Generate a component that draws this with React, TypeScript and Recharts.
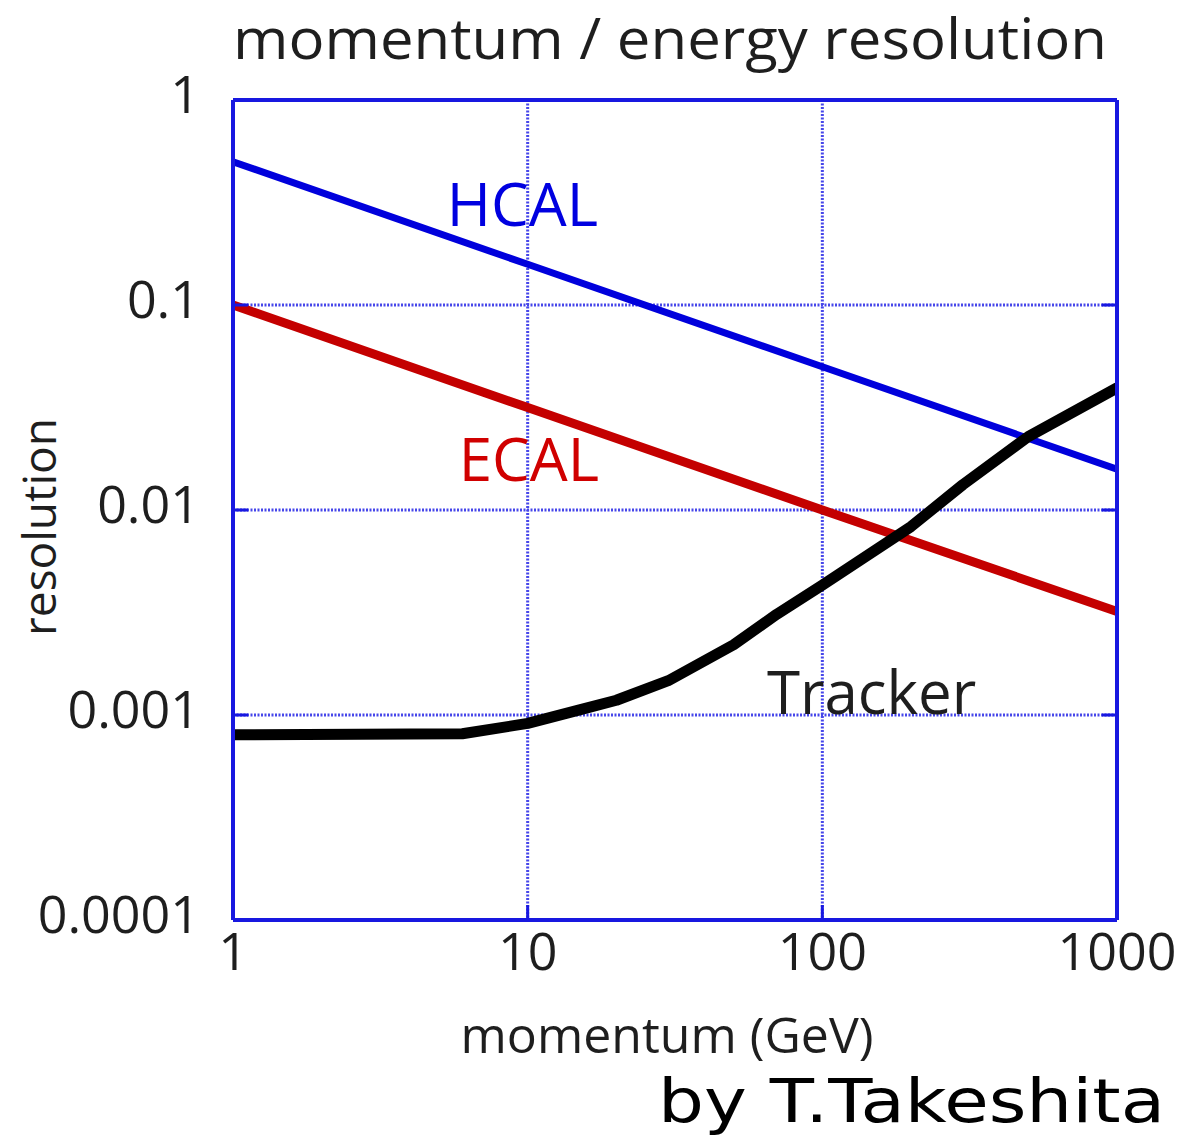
import React from 'react';
import { LineChart, Line, XAxis, YAxis, CartesianGrid, ReferenceDot, Label } from 'recharts';

// Calorimeter resolutions, read at each decade of momentum (GeV)
const calMomentum = [1, 10, 100, 1000];
const hcalRes = [0.5, 0.158, 0.05, 0.0158];
const ecalRes = [0.1, 0.0316, 0.01, 0.0032];

// Tracker momentum resolution
const trackerMomentum = [1, 6, 10, 15, 20, 30, 50, 70, 100, 200, 300, 500, 1000];
const trackerRes = [0.0008, 0.00081, 0.00091, 0.00106, 0.00118, 0.00147, 0.0022, 0.0031, 0.0043, 0.0083, 0.0133, 0.0228, 0.0394];

const xTicks = [1, 10, 100, 1000];
const yTicks = [0.0001, 0.001, 0.01, 0.1, 1];
const yTickLabels = ['0.0001', '0.001', '0.01', '0.1', '1'];

const hcalData = calMomentum.map((p, i) => ({ p, r: hcalRes[i] }));
const ecalData = calMomentum.map((p, i) => ({ p, r: ecalRes[i] }));
const trackerData = trackerMomentum.map((p, i) => ({ p, r: trackerRes[i] }));

const FONT = '"Open Sans", "Noto Sans", sans-serif';
const TEXT = '#1e1e1e';
const FRAME = '#1818e0';
const GRID = '#4646ea';

const XTick = (props: any) => (
  <text x={props.x} y={props.y + 50} textAnchor="middle" fontFamily={FONT} fontSize={52} fill={TEXT}>
    {props.payload.value}
  </text>
);

const YTick = (props: any) => {
  const idx = yTicks.indexOf(props.payload.value);
  return (
    <text x={props.x - 33} y={props.y + 13} textAnchor="end" fontFamily={FONT} fontSize={52} fill={TEXT}>
      {idx >= 0 ? yTickLabels[idx] : props.payload.value}
    </text>
  );
};

const EmptyTick = () => <g />;

const curveLabel = (text: string, color: string) => (props: any) => {
  const vb = props.viewBox || {};
  const cx = vb.x + (vb.width || 0) / 2;
  const cy = vb.y + (vb.height || 0) / 2;
  return (
    <text x={cx} y={cy + 21} textAnchor="middle" fontFamily={FONT} fontSize={60} fill={color}>
      {text}
    </text>
  );
};

export default function App() {
  return (
    <div style={{ position: 'absolute', left: 0, top: 0, width: 1179, height: 1140, background: '#fff' }}>
      <LineChart width={1179} height={1140} margin={{ top: 99, right: 61, bottom: 0, left: 0 }}>
        <CartesianGrid stroke={GRID} strokeWidth={3} strokeDasharray="2 1.5" />
        <XAxis
          xAxisId={0}
          dataKey="p"
          type="number"
          scale="log"
          domain={[1, 1000]}
          ticks={xTicks}
          allowDataOverflow
          height={220}
          axisLine={{ stroke: FRAME, strokeWidth: 4 }}
          tickLine={{ stroke: FRAME, strokeWidth: 3 }}
          tickSize={-15}
          tickMargin={15}
          tick={XTick}
          interval={0}
        />
        <XAxis
          xAxisId="top"
          orientation="top"
          type="number"
          scale="log"
          domain={[1, 1000]}
          ticks={xTicks}
          allowDataOverflow
          height={1}
          axisLine={{ stroke: FRAME, strokeWidth: 4 }}
          tickLine={{ stroke: FRAME, strokeWidth: 3 }}
          tickSize={-15}
          tick={EmptyTick}
          interval={0}
        />
        <YAxis
          yAxisId={0}
          type="number"
          scale="log"
          domain={[0.0001, 1]}
          ticks={yTicks}
          allowDataOverflow
          width={233}
          axisLine={{ stroke: FRAME, strokeWidth: 4 }}
          tickLine={{ stroke: FRAME, strokeWidth: 3 }}
          tickSize={-15}
          tickMargin={15}
          tick={YTick}
          interval={0}
        />
        <YAxis
          yAxisId="right"
          orientation="right"
          type="number"
          scale="log"
          domain={[0.0001, 1]}
          ticks={yTicks}
          allowDataOverflow
          width={1}
          axisLine={{ stroke: FRAME, strokeWidth: 4 }}
          tickLine={{ stroke: FRAME, strokeWidth: 3 }}
          tickSize={-15}
          tick={EmptyTick}
          interval={0}
        />
        <Line
          data={hcalData}
          dataKey="r"
          type="linear"
          stroke="#0000dc"
          strokeWidth={7}
          dot={false}
          isAnimationActive={false}
        />
        <Line
          data={ecalData}
          dataKey="r"
          type="linear"
          stroke="#c40000"
          strokeWidth={9}
          dot={false}
          isAnimationActive={false}
        />
        <Line
          data={trackerData}
          dataKey="r"
          type="linear"
          stroke="#000000"
          strokeWidth={11}
          strokeLinecap="round"
          strokeLinejoin="round"
          dot={false}
          isAnimationActive={false}
        />
        <ReferenceDot x={9.6} y={0.307} r={0} fill="none" stroke="none">
          <Label content={curveLabel('HCAL', '#0000e0')} />
        </ReferenceDot>
        <ReferenceDot x={10.1} y={0.0175} r={0} fill="none" stroke="none">
          <Label content={curveLabel('ECAL', '#d00000')} />
        </ReferenceDot>
        <ReferenceDot x={147} y={0.00128} r={0} fill="none" stroke="none">
          <Label content={curveLabel('Tracker', TEXT)} />
        </ReferenceDot>
      </LineChart>
      <svg
        width={1179}
        height={1140}
        style={{ position: 'absolute', left: 0, top: 0, pointerEvents: 'none' }}
      >
        <text
          x={233}
          y={59}
          textLength={874}
          lengthAdjust="spacingAndGlyphs"
          fontFamily={FONT}
          fontSize={57}
          fill={TEXT}
        >
          momentum / energy resolution
        </text>
        <text x={667} y={1053} textAnchor="middle" fontFamily={FONT} fontSize={50} fill={TEXT}>
          momentum (GeV)
        </text>
        <text
          transform="translate(56 527) rotate(-90)"
          textAnchor="middle"
          fontFamily={FONT}
          fontSize={46}
          fill={TEXT}
        >
          resolution
        </text>
        <text
          x={658}
          y={1122}
          textLength={507}
          lengthAdjust="spacingAndGlyphs"
          fontFamily='"DejaVu Sans", sans-serif'
          fontSize={60}
          fill="#000"
        >
          by T.Takeshita
        </text>
      </svg>
    </div>
  );
}
